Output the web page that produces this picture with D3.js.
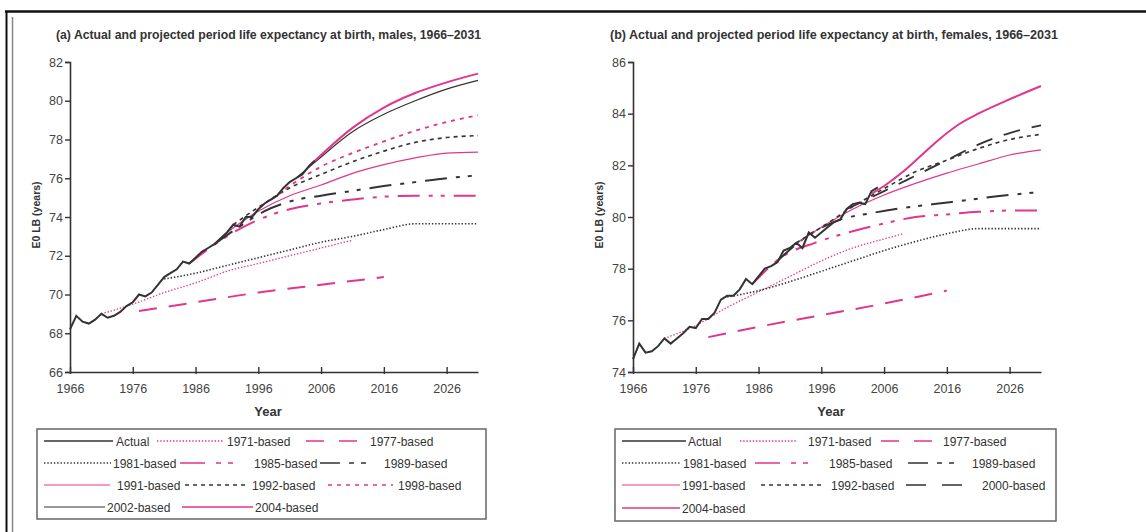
<!DOCTYPE html>
<html>
<head>
<meta charset="utf-8">
<script src="https://cdn.jsdelivr.net/npm/d3@7"></script>
<style>
  body { margin: 0; background: #fff; }
  svg { display: block; font-family: "Liberation Sans", Arial, sans-serif; }
</style>
</head>
<body>
<div id="chart"></div>
<script>
// ---- data ----
var xTicks = [1966, 1976, 1986, 1996, 2006, 2016, 2026];
var maleYTicks = [66, 68, 70, 72, 74, 76, 78, 80, 82];
var femaleYTicks = [74, 76, 78, 80, 82, 84, 86];

var maleActual = [[1966,68.2],[1967,68.9],[1968,68.6],[1969,68.5],[1970,68.7],[1971,69.0],[1972,68.8],[1973,68.9],
  [1974,69.1],[1975,69.4],[1976,69.6],[1977,70.0],[1978,69.9],[1979,70.1],[1980,70.5],[1981,70.9],[1982,71.1],
  [1983,71.3],[1984,71.7],[1985,71.6],[1986,71.9],[1987,72.2],[1988,72.4],[1989,72.6],[1990,72.9],[1991,73.2],
  [1992,73.6],[1993,73.5],[1994,74.0],[1995,74.0],[1996,74.4],[1997,74.7],[1998,74.9],[1999,75.1],[2000,75.5],
  [2001,75.8],[2002,76.0],[2003,76.2],[2004,76.6],[2005,76.9]];
var male1971 = [[1971,69.0],[1976,69.5],[1981,70.1],[1986,70.6],[1991,71.2],[1996,71.6],[2001,72.0],[2006,72.4],[2011,72.8]];
var male1977 = [[1977,69.15],[1986,69.6],[1996,70.1],[2006,70.5],[2016,70.9]];
var male1981 = [[1981,70.8],[1986,71.1],[1991,71.5],[1996,71.9],[2001,72.3],[2006,72.7],[2011,73.0],[2016,73.35],[2021,73.65],[2026,73.65],[2031,73.65]];
var male1985 = [[1985,71.6],[1991,73.0],[1996,73.85],[2001,74.4],[2006,74.7],[2011,74.9],[2016,75.05],[2021,75.1],[2026,75.1],[2031,75.1]];
var male1989 = [[1989,72.6],[1993,73.5],[1997,74.3],[2001,74.8],[2006,75.1],[2011,75.35],[2016,75.6],[2021,75.8],[2026,76.0],[2031,76.15]];
var male1991 = [[1991,73.2],[1996,74.3],[2001,75.1],[2006,75.65],[2011,76.25],[2016,76.7],[2021,77.05],[2026,77.3],[2031,77.35]];
var male1992 = [[1992,73.6],[1996,74.5],[2001,75.5],[2006,76.2],[2011,76.85],[2016,77.4],[2021,77.85],[2026,78.1],[2031,78.2]];
var male1998 = [[1998,74.9],[2001,75.6],[2006,76.6],[2011,77.3],[2016,77.9],[2021,78.45],[2026,78.9],[2031,79.25]];
var male2002 = [[2002,76.0],[2006,77.1],[2011,78.4],[2016,79.3],[2021,80.0],[2026,80.6],[2031,81.05]];
var male2004 = [[2004,76.6],[2006,77.2],[2011,78.6],[2016,79.65],[2021,80.4],[2026,80.95],[2031,81.4]];

var femaleActual = [[1966,74.5],[1967,75.1],[1968,74.75],[1969,74.8],[1970,75.0],[1971,75.3],[1972,75.1],[1973,75.3],
  [1974,75.5],[1975,75.75],[1976,75.7],[1977,76.05],[1978,76.05],[1979,76.3],[1980,76.8],[1981,76.95],[1982,76.95],
  [1983,77.2],[1984,77.6],[1985,77.4],[1986,77.7],[1987,78.0],[1988,78.1],[1989,78.25],[1990,78.7],[1991,78.8],
  [1992,79.0],[1993,78.8],[1994,79.4],[1995,79.2],[1996,79.4],[1997,79.6],[1998,79.8],[1999,79.9],[2000,80.3],
  [2001,80.5],[2002,80.55],[2003,80.5],[2004,81.0],[2005,81.15]];
var female1971 = [[1971,75.3],[1976,75.8],[1981,76.5],[1986,77.1],[1991,77.7],[1996,78.3],[2001,78.8],[2006,79.15],[2009,79.35]];
var female1977 = [[1978,75.35],[1986,75.75],[1996,76.2],[2006,76.65],[2016,77.15]];
var female1981 = [[1981,76.9],[1986,77.15],[1991,77.5],[1996,77.9],[2001,78.3],[2006,78.7],[2011,79.05],[2016,79.35],[2021,79.55],[2026,79.55],[2031,79.55]];
var female1985 = [[1985,77.4],[1990,78.5],[1995,79.0],[2001,79.45],[2006,79.75],[2011,80.0],[2016,80.1],[2021,80.2],[2026,80.25],[2031,80.25]];
var female1989 = [[1989,78.3],[1994,79.3],[1999,79.9],[2004,80.15],[2009,80.35],[2014,80.5],[2019,80.65],[2024,80.8],[2031,80.97]];
var female1991 = [[1991,78.8],[1996,79.6],[2001,80.3],[2006,80.85],[2011,81.3],[2016,81.7],[2021,82.05],[2026,82.4],[2031,82.6]];
var female1992 = [[1992,79.0],[1996,79.6],[2001,80.4],[2006,81.1],[2011,81.75],[2016,82.2],[2021,82.65],[2026,83.0],[2031,83.2]];
var female2000 = [[2000,80.3],[2006,81.0],[2011,81.6],[2016,82.2],[2021,82.8],[2026,83.25],[2031,83.55]];
var female2004 = [[2004,80.9],[2006,81.2],[2009,81.75],[2012,82.4],[2015,83.05],[2018,83.6],[2021,84.0],[2025,84.45],[2031,85.07]];

// ---- styles ----
var pink = "#e2368a", dark = "#333";
var styles = {
  "Actual":     {color: dark, width: 2,   dash: null},
  "1971-based": {color: pink, width: 1.3, dash: "1.4,1.8"},
  "1977-based": {color: pink, width: 2,   dash: "18,12"},
  "1981-based": {color: dark, width: 1.6, dash: "1.4,1.9"},
  "1985-based": {color: pink, width: 2,   dash: "22,9,4,8,4,9"},
  "1989-based": {color: dark, width: 2,   dash: "22,9,4,8,4,9"},
  "1991-based": {color: pink, width: 1.2, dash: null},
  "1992-based": {color: dark, width: 1.6, dash: "4,4"},
  "1998-based": {color: pink, width: 1.8, dash: "4,5"},
  "2000-based": {color: dark, width: 1.8, dash: "17,12"},
  "2002-based": {color: dark, width: 1.2, dash: null},
  "2004-based": {color: pink, width: 2,   dash: null}
};

var svg = d3.select("#chart").append("svg")
  .attr("width", 1146)
  .attr("height", 532);

// outer frame
svg.append("line").attr("x1", 5).attr("x2", 1146).attr("y1", 11.5).attr("y2", 11.5)
  .attr("stroke", "#111").attr("stroke-width", 2.5);
svg.append("line").attr("x1", 6.5).attr("x2", 6.5).attr("y1", 11).attr("y2", 532)
  .attr("stroke", "#111").attr("stroke-width", 2);
svg.append("line").attr("x1", 12.5).attr("x2", 12.5).attr("y1", 17).attr("y2", 532)
  .attr("stroke", "#888").attr("stroke-width", 1.5);

function drawPanel(p) {
  var x = d3.scaleLinear().domain([1966, 2031]).range([p.left, p.left + 408]);
  var y = d3.scaleLinear().domain(p.yDomain).range([372, 62]);

  svg.append("text")
    .attr("x", p.titleX).attr("y", 39)
    .attr("font-size", "12px").attr("font-weight", "bold").attr("fill", "#333")
    .attr("textLength", p.titleW).attr("lengthAdjust", "spacingAndGlyphs")
    .text(p.title);

  var xAxis = svg.append("g")
    .attr("transform", "translate(0,372)")
    .call(d3.axisBottom(x).tickValues(xTicks).tickFormat(d3.format("d")).tickSize(0).tickPadding(12));
  xAxis.select(".domain").attr("stroke", dark).attr("stroke-width", 1.6);
  xAxis.selectAll(".tick").append("line")
    .attr("y1", -5).attr("y2", 2).attr("stroke", dark).attr("stroke-width", 1.4);
  xAxis.selectAll("text").attr("font-size", "12.5px").attr("fill", "#444");

  var yAxis = svg.append("g")
    .attr("transform", "translate(" + p.left + ",0)")
    .call(d3.axisLeft(y).tickValues(p.yTicks).tickSize(5).tickPadding(2));
  yAxis.select(".domain").attr("stroke", dark).attr("stroke-width", 1.6);
  yAxis.selectAll(".tick line").attr("stroke", dark).attr("stroke-width", 1.4);
  yAxis.selectAll("text").attr("font-size", "12.5px").attr("fill", "#444");

  svg.append("text")
    .attr("x", p.left + 198).attr("y", 416)
    .attr("text-anchor", "middle").attr("font-size", "13px").attr("font-weight", "bold").attr("fill", "#333")
    .text("Year");

  svg.append("text")
    .attr("transform", "translate(" + (p.left - 30) + ",215) rotate(-90)")
    .attr("text-anchor", "middle").attr("font-size", "10.5px").attr("font-weight", "bold").attr("fill", "#333")
    .text("E0 LB (years)");

  var line = d3.line().x(function(d) { return x(d[0]); }).y(function(d) { return y(d[1]); });

  p.series.forEach(function(s) {
    var st = styles[s.name];
    line.curve(s.name === "Actual" ? d3.curveLinear : d3.curveMonotoneX);
    svg.append("path")
      .datum(s.values)
      .attr("d", line)
      .attr("fill", "none")
      .attr("stroke", st.color)
      .attr("stroke-width", st.width)
      .attr("stroke-dasharray", st.dash);
  });

  // legend
  svg.append("rect")
    .attr("x", p.legendBox[0]).attr("y", 429)
    .attr("width", p.legendBox[1] - p.legendBox[0]).attr("height", p.legendBox[2] - 429)
    .attr("fill", "none").attr("stroke", "#666").attr("stroke-width", 1.5);

  p.legend.forEach(function(e) {
    var st = styles[e[0]];
    svg.append("line")
      .attr("x1", e[2]).attr("x2", e[3]).attr("y1", e[1]).attr("y2", e[1])
      .attr("stroke", st.color)
      .attr("stroke-width", Math.min(st.width, 1.6))
      .attr("stroke-dasharray", e[5] || st.dash);
    svg.append("text")
      .attr("x", e[4]).attr("y", e[1] + 4.5)
      .attr("font-size", "12px").attr("fill", "#333")
      .text(e[0]);
  });
}

// legend layout: name, rowY, swatch x0, swatch x1, text x, legend dash override
drawPanel({
  left: 70,
  yDomain: [66, 82],
  yTicks: maleYTicks,
  title: "(a) Actual and projected period life expectancy at birth, males, 1966\u20132031",
  titleX: 56, titleW: 425,
  series: [
    {name: "1971-based", values: male1971},
    {name: "1977-based", values: male1977},
    {name: "1981-based", values: male1981},
    {name: "1985-based", values: male1985},
    {name: "1989-based", values: male1989},
    {name: "1991-based", values: male1991},
    {name: "1992-based", values: male1992},
    {name: "1998-based", values: male1998},
    {name: "2002-based", values: male2002},
    {name: "2004-based", values: male2004},
    {name: "Actual", values: maleActual}
  ],
  legendBox: [37, 486, 519],
  legend: [
    ["Actual", 441, 44, 113, 116],
    ["1971-based", 441, 157, 224, 227],
    ["1977-based", 441, 306, 357, 370, "18,15"],
    ["1981-based", 463, 44, 111, 113],
    ["1985-based", 463, 180, 251, 254, "25,11,5,7,5,40"],
    ["1989-based", 463, 320, 378, 384, "20,9,5,7,5,40"],
    ["1991-based", 485, 44, 110, 117],
    ["1992-based", 485, 185, 247, 252],
    ["1998-based", 485, 328, 393, 398],
    ["2002-based", 507, 44, 105, 107],
    ["2004-based", 507, 182, 253, 255]
  ]
});

drawPanel({
  left: 633,
  yDomain: [74, 86],
  yTicks: femaleYTicks,
  title: "(b) Actual and projected period life expectancy at birth, females, 1966\u20132031",
  titleX: 610, titleW: 448,
  series: [
    {name: "1971-based", values: female1971},
    {name: "1977-based", values: female1977},
    {name: "1981-based", values: female1981},
    {name: "1985-based", values: female1985},
    {name: "1989-based", values: female1989},
    {name: "1991-based", values: female1991},
    {name: "1992-based", values: female1992},
    {name: "2000-based", values: female2000},
    {name: "2004-based", values: female2004},
    {name: "Actual", values: femaleActual}
  ],
  legendBox: [615, 1056, 521],
  legend: [
    ["Actual", 441, 622, 686, 688],
    ["1971-based", 441, 740, 797, 808],
    ["1977-based", 441, 881, 934, 943, "18,15"],
    ["1981-based", 463, 622, 681, 683],
    ["1985-based", 463, 755, 824, 829, "25,11,5,7,5,40"],
    ["1989-based", 463, 908, 966, 972, "20,9,5,7,5,40"],
    ["1991-based", 485, 622, 680, 682],
    ["1992-based", 485, 761, 824, 831],
    ["2000-based", 485, 906, 965, 982, "20,16"],
    ["2004-based", 508, 622, 680, 682]
  ]
});
</script>
</body>
</html>
